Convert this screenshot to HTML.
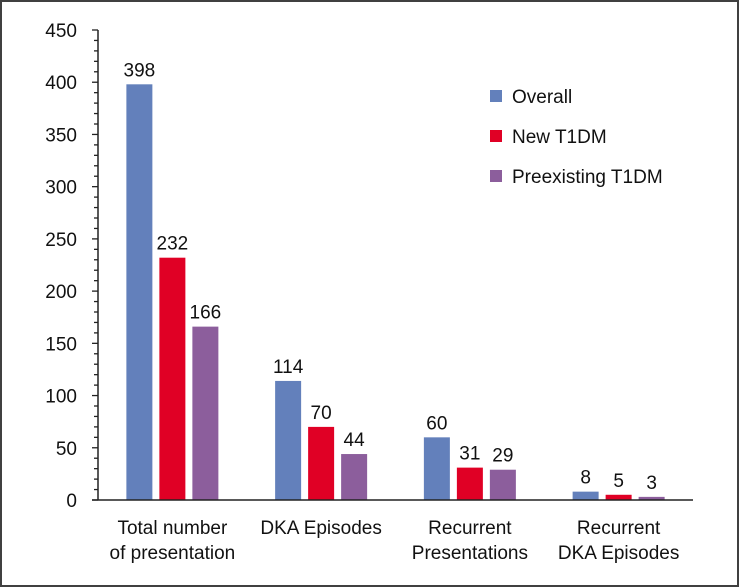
<!DOCTYPE html>
<html><head><meta charset="utf-8"><style>
html,body{margin:0;padding:0;background:#fff}
svg{display:block;font-family:"Liberation Sans",Arial,sans-serif}
</style></head><body>
<svg width="739" height="587" viewBox="0 0 739 587" id="chart">
<rect x="1" y="1" width="737" height="585" fill="#fff" stroke="#404040" stroke-width="2"/>
</svg>
<script>
const categories = [["Total number","of presentation"],["DKA Episodes"],["Recurrent","Presentations"],["Recurrent","DKA Episodes"]];
const seriesNames = ["Overall","New T1DM","Preexisting T1DM"];
const overall = [398,114,60,8];
const newT1DM = [232,70,31,5];
const preexisting = [166,44,29,3];
const yTicks = [0,50,100,150,200,250,300,350,400,450];
const colors = ["#6380bb","#e00025","#8c5e9c"];
const series = [overall,newT1DM,preexisting];
const svg = document.getElementById('chart');
const NS = 'http://www.w3.org/2000/svg';
const x0 = 98, x1 = 693, y0 = 500, yTop = 30, yMax = 450;
const yScale = v => y0 - v / yMax * (y0 - yTop);
const bandW = (x1 - x0) / categories.length;
const xCenter = i => x0 + bandW * (i + 0.5);
const barW = 26, step = 33, fs = 19;
function mk(tag, attrs){const e=document.createElementNS(NS,tag);for(const k in attrs)e.setAttribute(k,attrs[k]);svg.appendChild(e);return e;}
for(let v=0; v<=yMax; v+=10){
  const t = mk('line',{x1: x0-(v%50===0?6:4), x2:x0, y1:yScale(v), y2:yScale(v), stroke:'#222','stroke-width':1.3});
  
  
}
yTicks.forEach(v=>{
  const t = mk('text',{x:77,y:yScale(v)+7,'text-anchor':'end','font-size':fs,fill:'#111'});
  t.textContent = v;
  
  
});
series.forEach((s,si)=>{
  s.forEach((v,i)=>{
    const cx = xCenter(i) + (si-1)*step;
    const r = mk('rect',{x:cx-barW/2,y:yScale(v),width:barW,height:y0-yScale(v),fill:colors[si]});
    
    
    const t = mk('text',{x:cx,y:yScale(v)-8,'text-anchor':'middle','font-size':fs,fill:'#111'});
    t.textContent = v;
    
    
  });
});
const ya = mk('line',{x1:x0,x2:x0,y1:yTop,y2:y0,stroke:'#222','stroke-width':1.5});


const xa = mk('line',{x1:x0-6,x2:x1,y1:y0,y2:y0,stroke:'#222','stroke-width':1.5});


categories.forEach((c,i)=>{
  c.forEach((line,li)=>{
    const t = mk('text',{x:xCenter(i),y:534+li*25,'text-anchor':'middle','font-size':fs,fill:'#111'});
    t.textContent = line;
    
    
  });
});
seriesNames.forEach((n,i)=>{
  const cy = 96 + i*40;
  const r = mk('rect',{x:490,y:cy-6,width:12,height:12,fill:colors[i]});
  
  
  const t = mk('text',{x:512,y:cy+7,'font-size':fs,fill:'#111'});
  t.textContent = n;
  
  
});
</script>
</body></html>
